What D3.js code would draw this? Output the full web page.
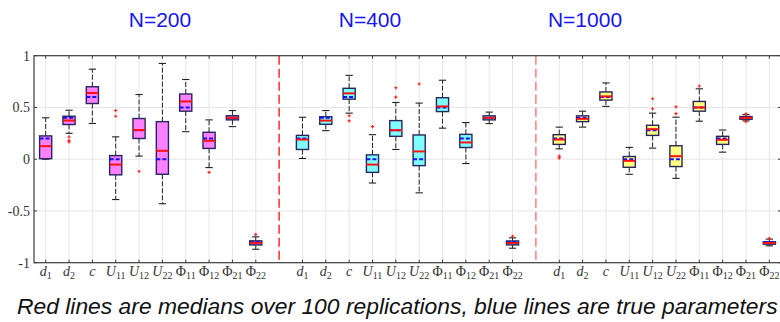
<!DOCTYPE html>
<html>
<head>
<meta charset="utf-8">
<script src="https://cdn.jsdelivr.net/npm/d3@7"></script>
<style>
  html, body { margin: 0; padding: 0; background: #fff; }
  svg { display: block; }
</style>
</head>
<body>
<svg id="chart" width="780" height="322"></svg>
<script>
// ---------- DATA ----------
const categories = [
  {base: "d", sub: "1", italic: true},
  {base: "d", sub: "2", italic: true},
  {base: "c", sub: "", italic: true},
  {base: "U", sub: "11", italic: true},
  {base: "U", sub: "12", italic: true},
  {base: "U", sub: "22", italic: true},
  {base: "Φ", sub: "11", italic: false},
  {base: "Φ", sub: "12", italic: false},
  {base: "Φ", sub: "21", italic: false},
  {base: "Φ", sub: "22", italic: false}
];
const groupTitles = ["N=200", "N=400", "N=1000"];
const yTicks = [-1, -0.5, 0, 0.5, 1];
const yTickLabels = ["-1", "-0.5", "0", "0.5", "1"];
const trueValues = [0.2, 0.4, 0.6, 0, 0.28, 0, 0.5, 0.2, 0.4, -0.8];

// N=200
const n200Low  = [0.00, 0.25, 0.345, -0.39, 0.03, -0.43, 0.266, -0.081, 0.315, -0.87];
const n200Q1   = [0.005, 0.335, 0.538, -0.151, 0.20, -0.146, 0.464, 0.104, 0.38, -0.828];
const n200Med  = [0.126, 0.374, 0.64, -0.052, 0.282, 0.081, 0.558, 0.178, 0.40, -0.808];
const n200Q3   = [0.225, 0.415, 0.70, 0.035, 0.393, 0.363, 0.63, 0.26, 0.42, -0.789];
const n200High = [0.40, 0.473, 0.87, 0.216, 0.625, 0.925, 0.77, 0.38, 0.47, -0.75];
const n200Out  = [[], [0.215, 0.18, 0.167], [], [0.47, 0.415], [-0.117], [], [], [-0.127], [], [-0.727]];

// N=400
const n400Low  = [0.007, 0.276, 0.445, -0.23, 0.094, -0.325, 0.30, -0.042, 0.344, -0.86];
const n400Q1   = [0.094, 0.337, 0.58, -0.127, 0.221, -0.062, 0.46, 0.113, 0.38, -0.828];
const n400Med  = [0.19, 0.373, 0.636, -0.052, 0.28, 0.075, 0.51, 0.162, 0.40, -0.81];
const n400Q3   = [0.23, 0.41, 0.685, 0.042, 0.373, 0.234, 0.594, 0.24, 0.419, -0.79];
const n400High = [0.405, 0.47, 0.81, 0.237, 0.548, 0.542, 0.763, 0.354, 0.455, -0.76];
const n400Out  = [[], [], [0.42, 0.37], [0.315], [0.69, 0.60], [0.727], [], [], [], [-0.745]];

// N=1000
const n1000Low  = [0.10, 0.31, 0.51, -0.146, 0.107, -0.185, 0.367, 0.068, 0.37, -0.837];
const n1000Q1   = [0.143, 0.363, 0.571, -0.078, 0.23, -0.071, 0.464, 0.143, 0.386, -0.821];
const n1000Med  = [0.19, 0.39, 0.607, -0.016, 0.29, 0.029, 0.50, 0.188, 0.40, -0.81];
const n1000Q3   = [0.237, 0.419, 0.65, 0.026, 0.328, 0.13, 0.558, 0.221, 0.412, -0.798];
const n1000High = [0.31, 0.464, 0.737, 0.114, 0.445, 0.406, 0.68, 0.282, 0.431, -0.772];
const n1000Out  = [[0.03, 0.01], [], [], [], [0.584, 0.487], [0.506, 0.44], [0.707], [], [0.438, 0.363], [-0.765]];

const caption = "Red lines are medians over 100 replications, blue lines are true parameters";

// ---------- BUILD ----------
const groups = [
  {low: n200Low, q1: n200Q1, med: n200Med, q3: n200Q3, high: n200High, out: n200Out},
  {low: n400Low, q1: n400Q1, med: n400Med, q3: n400Q3, high: n400High, out: n400Out},
  {low: n1000Low, q1: n1000Q1, med: n1000Med, q3: n1000Q3, high: n1000High, out: n1000Out}
];
const groupFills = ["#ff80ff", "#80ffff", "#ffff80"];
const sepColors = ["#ff1a1a", "#ff7373"];
const titleX = [160, 370, 585];

const svg = d3.select("#chart");
const pLeft = 34, pRight = 781, pTop = 55.7, pBottom = 262.7;
const x = d3.scaleLinear().domain([0.5, 32.5]).range([pLeft, pRight]);
const y = d3.scaleLinear().domain([-1, 1]).range([pBottom, pTop]);
const slot = (g, i) => g * 11 + i + 1;
const catSlots = [];
groups.forEach((_, g) => categories.forEach((_, i) => catSlots.push({g, i, s: slot(g, i)})));

const axisColor = "#3a3a3a";
const gridColor = "#e6e6e6";

// grid
const grid = svg.append("g");
grid.selectAll("line.v").data(catSlots).enter().append("line")
  .attr("x1", d => x(d.s)).attr("x2", d => x(d.s))
  .attr("y1", pTop).attr("y2", pBottom)
  .attr("stroke", gridColor).attr("stroke-width", 1);
grid.selectAll("line.h").data([-0.5, 0, 0.5]).enter().append("line")
  .attr("x1", pLeft).attr("x2", pRight)
  .attr("y1", d => y(d)).attr("y2", d => y(d))
  .attr("stroke", gridColor).attr("stroke-width", 1);

// separators
svg.append("g").selectAll("line").data([11, 22]).enter().append("line")
  .attr("x1", d => x(d)).attr("x2", d => x(d))
  .attr("y1", pTop).attr("y2", pBottom)
  .attr("stroke", (d, k) => sepColors[k]).attr("stroke-width", 1.4)
  .attr("stroke-dasharray", "9,4");

// boxes
const halfW = (x(1.26) - x(1));
const capW = halfW * 0.6;
const boxes = svg.append("g");
catSlots.forEach(d => {
  const G = groups[d.g];
  const cx = x(d.s);
  const b = boxes.append("g");
  b.append("line").attr("x1", cx).attr("x2", cx)
    .attr("y1", y(G.q3[d.i])).attr("y2", y(G.high[d.i]))
    .attr("stroke", "#222").attr("stroke-width", 1).attr("stroke-dasharray", "5,2");
  b.append("line").attr("x1", cx).attr("x2", cx)
    .attr("y1", y(G.q1[d.i])).attr("y2", y(G.low[d.i]))
    .attr("stroke", "#222").attr("stroke-width", 1).attr("stroke-dasharray", "5,2");
  [G.high[d.i], G.low[d.i]].forEach(v => {
    b.append("line").attr("x1", cx - capW).attr("x2", cx + capW)
      .attr("y1", y(v)).attr("y2", y(v))
      .attr("stroke", "#222").attr("stroke-width", 1.1);
  });
  b.append("rect")
    .attr("x", cx - halfW).attr("width", 2 * halfW)
    .attr("y", y(G.q3[d.i])).attr("height", Math.max(1, y(G.q1[d.i]) - y(G.q3[d.i])))
    .attr("fill", groupFills[d.g])
    .attr("stroke", "#26265e").attr("stroke-width", 1.4);
  b.append("line").attr("x1", cx - halfW).attr("x2", cx + halfW)
    .attr("y1", y(trueValues[d.i])).attr("y2", y(trueValues[d.i]))
    .attr("stroke", "#1010ff").attr("stroke-width", 2).attr("stroke-dasharray", "4,2");
  b.append("line").attr("x1", cx - halfW).attr("x2", cx + halfW)
    .attr("y1", y(G.med[d.i])).attr("y2", y(G.med[d.i]))
    .attr("stroke", "#ff1010").attr("stroke-width", 2);
  G.out[d.i].forEach(v => {
    const oy = y(v);
    b.append("path")
      .attr("d", `M${cx - 1.6},${oy}H${cx + 1.6}M${cx},${oy - 1.6}V${oy + 1.6}`)
      .attr("stroke", "#ff2020").attr("stroke-width", 1.1).attr("fill", "none");
  });
});

// axes frame
const ax = svg.append("g");
ax.append("rect").attr("x", pLeft).attr("y", pTop)
  .attr("width", pRight - pLeft).attr("height", pBottom - pTop)
  .attr("fill", "none").attr("stroke", axisColor).attr("stroke-width", 1.2);
ax.selectAll("line.bt").data(catSlots).enter().append("line")
  .attr("x1", d => x(d.s)).attr("x2", d => x(d.s))
  .attr("y1", pBottom).attr("y2", pBottom - 3)
  .attr("stroke", axisColor).attr("stroke-width", 1);
ax.selectAll("line.tt").data(catSlots).enter().append("line")
  .attr("x1", d => x(d.s)).attr("x2", d => x(d.s))
  .attr("y1", pTop).attr("y2", pTop + 3)
  .attr("stroke", axisColor).attr("stroke-width", 1);
ax.selectAll("line.lt").data(yTicks).enter().append("line")
  .attr("x1", pLeft).attr("x2", pLeft + 3)
  .attr("y1", d => y(d)).attr("y2", d => y(d))
  .attr("stroke", axisColor).attr("stroke-width", 1);
ax.selectAll("line.rt").data(yTicks).enter().append("line")
  .attr("x1", pRight - 3).attr("x2", pRight)
  .attr("y1", d => y(d)).attr("y2", d => y(d))
  .attr("stroke", axisColor).attr("stroke-width", 1);

// y tick labels
ax.selectAll("text.yl").data(yTicks).enter().append("text")
  .attr("x", pLeft - 4).attr("y", d => y(d) + 5)
  .attr("text-anchor", "end")
  .attr("font-family", "'Liberation Serif', 'DejaVu Serif', serif")
  .attr("font-size", 14).attr("fill", "#333")
  .text((d, k) => yTickLabels[k]);

// x tick labels
const xl = ax.selectAll("text.xl").data(catSlots).enter().append("text")
  .attr("x", d => x(d.s)).attr("y", 275.5)
  .attr("text-anchor", "middle")
  .attr("font-family", "'Liberation Serif', 'DejaVu Serif', serif")
  .attr("fill", "#333");
xl.append("tspan")
  .attr("font-size", 14)
  .attr("font-style", d => categories[d.i].italic ? "italic" : "normal")
  .text(d => categories[d.i].base);
xl.filter(d => categories[d.i].sub !== "").append("tspan")
  .attr("font-size", 10).attr("dy", 3)
  .text(d => categories[d.i].sub);

// titles
svg.append("g").selectAll("text").data(groupTitles).enter().append("text")
  .attr("x", (d, k) => titleX[k]).attr("y", 26.5)
  .attr("text-anchor", "middle")
  .attr("font-family", "'Liberation Sans', Arial, sans-serif")
  .attr("font-size", 21).attr("fill", "#1515ee")
  .text(d => d);

// caption
const cap = svg.append("text")
  .attr("x", 17).attr("y", 313.5)
  .attr("font-family", "'Liberation Sans', Arial, sans-serif")
  .attr("font-style", "italic")
  .attr("font-size", 20).attr("fill", "#111")
  .text(caption);
const w = cap.node().getComputedTextLength();
cap.attr("font-size", 20 * 761 / w);
</script>
</body>
</html>
